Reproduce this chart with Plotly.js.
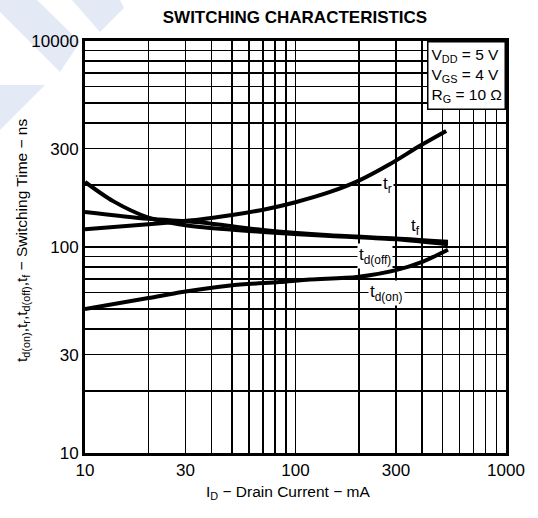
<!DOCTYPE html>
<html>
<head>
<meta charset="utf-8">
<script src="https://cdn.plot.ly/plotly-3.0.1.min.js"></script>
<style>html,body{margin:0;padding:0;background:#fff;}#chart{width:538px;height:518px;}</style>
</head>
<body>
<div id="chart"></div>
<script>
// ---- data (ID in mA, times in ns) ----
const trCurrent   = [10, 20, 35, 50, 73, 100, 146, 200, 280, 390, 520];
const trTime      = [122, 129, 136, 143, 153, 165, 185, 210, 252, 310, 366];

const tfCurrent   = [10, 20, 35, 70, 146, 300, 530];
const tfTime      = [148, 137, 132, 121, 114, 110, 106];

const tdoffCurrent = [10, 13.6, 20, 28, 35, 73, 146, 300, 530];
const tdoffTime    = [207, 167, 139, 129, 125, 118, 113, 109, 103];

const tdonCurrent = [10, 20, 29, 49, 84, 117, 196, 297, 403, 530];
const tdonTime    = [50, 56.5, 60.5, 65, 67.6, 69.5, 71.5, 77, 85, 97];

const majorValues = [10, 30, 100, 300, 1000];
const xTickText   = ['10', '30', '100', '300', '1000'];
const yTickText   = ['10', '30', '100', '300', '10000'];
const minorValues = [20,40,50,60,70,80,90,200,400,500,600,700,800,900];

const curveLabels = [
  {text: 't<sub>r</sub>',      x: 275, y: 200, bg: 'white'},
  {text: 't<sub>f</sub>',      x: 370, y: 125, bg: 'rgba(0,0,0,0)'},
  {text: 't<sub>d(off)</sub>', x: 239, y: 90,  bg: 'white'},
  {text: 't<sub>d(on)</sub>',  x: 272, y: 60,  bg: 'white'}
];

// ---- layout geometry ----
const W = 538, H = 518;
const L = 85, R = 32, T = 41, B = 65;
const PW = W - L - R, PH = H - T - B;
const px2paperX = px => (px - L) / PW;
const px2paperY = py => (H - B - py) / PH;

const fontFam = '"Liberation Sans", Arial, Helvetica, sans-serif';

function curve(x, y) {
  return {x: x, y: y, type: 'scatter', mode: 'lines',
          line: {color: 'black', width: 4, shape: 'spline', smoothing: 0.8},
          hoverinfo: 'skip'};
}

const traces = [
  curve(trCurrent, trTime),
  curve(tfCurrent, tfTime),
  curve(tdoffCurrent, tdoffTime),
  curve(tdonCurrent, tdonTime)
];

// faint watermark shapes in the top-left corner
function polyPath(pts) {
  return 'M' + pts.map(p => px2paperX(p[0]).toFixed(4) + ',' + px2paperY(p[1]).toFixed(4)).join(' L') + ' Z';
}
const wm = '#e4e9f6';
const shapes = [
  {type: 'path', xref: 'paper', yref: 'paper', layer: 'below', line: {width: 0}, fillcolor: wm,
   path: polyPath([[0,0],[37,0],[80,42],[60,72],[0,12]])},
  {type: 'path', xref: 'paper', yref: 'paper', layer: 'below', line: {width: 0}, fillcolor: wm,
   path: polyPath([[72,0],[120,0],[124,8],[100,32]])},
  {type: 'path', xref: 'paper', yref: 'paper', layer: 'below', line: {width: 0}, fillcolor: wm,
   path: polyPath([[0,85],[45,85],[0,130]])}
];

const annotations = curveLabels.map(c => ({
  text: c.text, x: Math.log10(c.x), y: Math.log10(c.y), xref: 'x', yref: 'y',
  showarrow: false, bgcolor: c.bg, borderpad: 1,
  font: {family: fontFam, size: 17, color: 'black'}
}));

annotations.push({
  text: 'V<sub>DD</sub> = 5 V<br>V<sub>GS</sub> = 4 V<br>R<sub>G</sub> = 10 Ω',
  xref: 'paper', yref: 'paper', x: 1, y: 1, xanchor: 'right', yanchor: 'top',
  showarrow: false, align: 'left', bgcolor: 'white', bordercolor: 'black', borderwidth: 1.5,
  borderpad: 3, font: {family: fontFam, size: 15.5, color: 'black'}
});

annotations.push({
  text: 't<sub>d(on)</sub>,t<sub>r</sub>,t<sub>d(off)</sub>,t<sub>f</sub> − Switching Time − ns',
  xref: 'paper', yref: 'paper', x: px2paperX(22), y: px2paperY(241),
  xanchor: 'center', yanchor: 'middle', textangle: -90, showarrow: false,
  font: {family: fontFam, size: 15.5, color: 'black'}
});

annotations.push({
  text: 'I<sub>D</sub> − Drain Current − mA',
  xref: 'paper', yref: 'paper', x: px2paperX(288), y: px2paperY(492),
  xanchor: 'center', yanchor: 'middle', showarrow: false,
  font: {family: fontFam, size: 15.5, color: 'black'}
});

function makeAxis(ticktext) {
  return {
    type: 'log', range: [1, 3],
    showgrid: true, gridcolor: 'black', gridwidth: 1.5,
    zeroline: false, showline: true, linecolor: 'black', linewidth: 3, mirror: true,
    ticks: '', tickmode: 'array', tickvals: majorValues, ticktext: ticktext,
    minor: {tickmode: 'array', tickvals: minorValues, showgrid: true,
            gridcolor: 'black', gridwidth: 1.5, ticks: ''},
    tickfont: {family: fontFam, size: 17, color: 'black'}, fixedrange: true
  };
}

const layout = {
  width: W, height: H,
  margin: {l: L, r: R, t: T, b: B, pad: 0},
  paper_bgcolor: 'white', plot_bgcolor: 'white',
  showlegend: false,
  title: {text: '<b>SWITCHING CHARACTERISTICS</b>', x: 295 / W, xanchor: 'center',
          xref: 'container', y: 1 - 17 / H, yanchor: 'middle', yref: 'container',
          font: {family: fontFam, size: 17, color: 'black'}},
  xaxis: makeAxis(xTickText),
  yaxis: makeAxis(yTickText),
  shapes: shapes,
  annotations: annotations
};

Plotly.newPlot('chart', traces, layout, {displayModeBar: false, staticPlot: true});
</script>
</body>
</html>
